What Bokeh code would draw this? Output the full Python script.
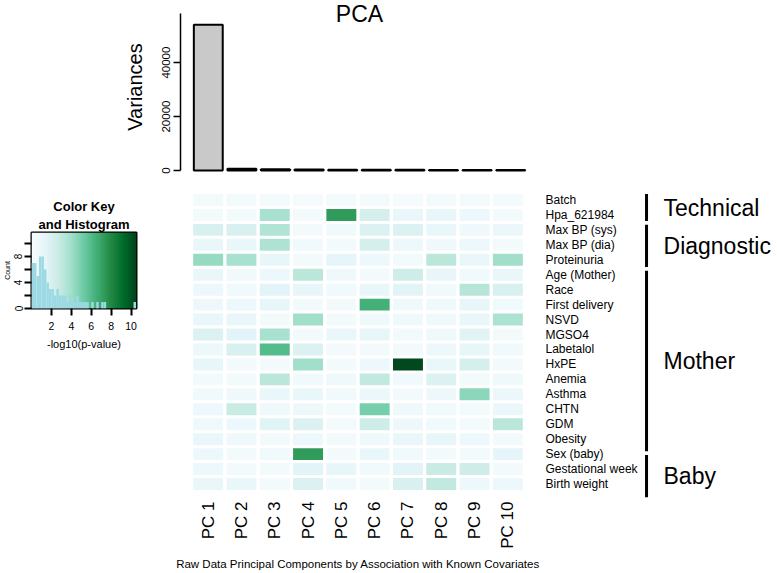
import math
import numpy as np
from bokeh.plotting import figure
from bokeh.layouts import column, row
from bokeh.models import (FactorRange, Range1d, LinearColorMapper, FixedTicker,
                          Label, Title, ColumnDataSource)
from bokeh.transform import linear_cmap
from bokeh.core.properties import value
from bokeh.embed import file_html
from bokeh.resources import INLINE

FONT = "Liberation Sans"

# ---------------- data ----------------
pcs = ["PC 1", "PC 2", "PC 3", "PC 4", "PC 5", "PC 6", "PC 7", "PC 8", "PC 9", "PC 10"]
variances = [54000, 620, 520, 380, 330, 290, 260, 230, 210, 190]

covariates = ["Batch", "Hpa_621984", "Max BP (sys)", "Max BP (dia)", "Proteinuria",
              "Age (Mother)", "Race", "First delivery", "NSVD", "MGSO4", "Labetalol",
              "HxPE", "Anemia", "Asthma", "CHTN", "GDM", "Obesity", "Sex (baby)",
              "Gestational week", "Birth weight"]
groups = ["Technical", "Diagnostic", "Mother", "Baby"]
group_sizes = [2, 3, 12, 3]

# -log10(p-value), one row per covariate, columns PC 1 .. PC 10
neglog_p = [
    [0.3, 0.3, 0.3, 0.2, 0.3, 0.3, 0.2, 0.3, 0.3, 0.3],   # Batch
    [0.4, 0.3, 3.8, 0.3, 7.3, 2.2, 1.0, 1.2, 0.8, 0.4],   # Hpa_621984
    [2.0, 2.0, 3.5, 0.3, 0.5, 1.8, 1.8, 1.0, 0.6, 0.9],   # Max BP (sys)
    [1.0, 1.0, 3.6, 0.5, 0.4, 2.2, 0.8, 0.6, 0.8, 0.4],   # Max BP (dia)
    [4.3, 3.8, 1.2, 0.4, 1.3, 0.8, 0.3, 3.2, 1.0, 4.0],   # Proteinuria
    [1.0, 0.5, 0.8, 3.2, 0.6, 0.4, 2.5, 1.1, 0.5, 1.0],   # Age (Mother)
    [0.8, 0.5, 1.5, 1.2, 0.5, 1.0, 1.5, 0.5, 3.3, 2.0],   # Race
    [0.7, 0.8, 1.2, 0.4, 0.3, 6.5, 0.6, 0.6, 1.2, 0.5],   # First delivery
    [1.0, 1.0, 0.4, 4.0, 0.4, 0.6, 0.6, 0.6, 1.0, 3.7],   # NSVD
    [1.8, 1.5, 3.8, 0.4, 1.0, 1.2, 0.3, 0.6, 1.6, 0.4],   # MGSO4
    [0.8, 2.0, 6.0, 1.8, 0.3, 0.4, 0.4, 0.8, 1.2, 0.5],   # Labetalol
    [1.2, 0.3, 0.4, 4.0, 0.3, 0.8, 10.4, 1.0, 2.2, 0.4],  # HxPE
    [0.4, 0.3, 3.2, 0.5, 0.6, 3.0, 0.5, 1.8, 0.3, 0.6],   # Anemia
    [0.5, 0.6, 1.0, 1.0, 0.5, 0.9, 0.3, 0.7, 4.5, 0.9],   # Asthma
    [0.8, 2.8, 0.6, 0.7, 0.4, 5.0, 0.6, 0.5, 0.4, 0.9],   # CHTN
    [0.6, 0.8, 1.6, 1.8, 0.4, 2.5, 0.7, 0.5, 0.4, 3.2],   # GDM
    [1.0, 0.6, 0.4, 0.8, 0.4, 0.6, 1.0, 1.2, 0.8, 0.4],   # Obesity
    [0.8, 0.4, 0.5, 7.3, 0.4, 1.0, 0.5, 0.4, 0.4, 1.3],   # Sex (baby)
    [0.8, 0.4, 0.3, 1.5, 1.2, 0.5, 1.5, 2.8, 2.5, 0.4],   # Gestational week
    [1.0, 1.0, 0.4, 1.8, 0.5, 0.3, 2.0, 3.0, 0.8, 0.8],   # Birth weight
]

# colour key histogram (bin width 0.25 from 0)
hist_bin_width = 0.25
hist_counts = [7, 7, 5, 8, 8, 6, 4, 3, 3, 2, 3, 2, 2, 2, 1, 2, 1, 1, 2, 1, 1, 1, 1, 0,
               1, 0, 1, 0, 1, 1, 0, 0, 0, 0, 0, 0, 0, 0, 0, 0, 0, 1]
key_max = 10.55
count_max = 11.7
key_ticks = [2, 4, 6, 8, 10]
count_ticks = [0, 2, 4, 6, 8, 10]
count_labels = {0: "0", 2: "", 4: "4", 6: "", 8: "8", 10: ""}
var_ticks = [0, 20000, 40000]

bugn = ["#f7fcfd", "#e5f5f9", "#ccece6", "#a3e0cc", "#6ccaa4",
        "#41ae76", "#238b45", "#006d2c", "#00441b"]


def interp_palette(stops, n=256):
    rgb = np.array([[int(s[i:i + 2], 16) for i in (1, 3, 5)] for s in stops], float)
    pos = np.linspace(0, 1, len(stops))
    t = np.linspace(0, 1, n)
    out = np.stack([np.interp(t, pos, rgb[:, k]) for k in range(3)], 1)
    return ["#%02x%02x%02x" % tuple(int(round(c)) for c in r) for r in out]


palette = interp_palette(bugn)
mapper = LinearColorMapper(palette=palette, low=0, high=key_max)

common = dict(output_backend="svg", toolbar_location=None, title=None, frame_align=False)


def black_axis(ax):
    ax.major_label_text_color = "black"
    ax.axis_label_text_color = "black"
    ax.major_tick_line_color = "black"
    ax.major_label_text_font = FONT
    ax.axis_label_text_font = FONT
    ax.axis_label_text_font_style = "normal"


# ---------------- bar chart (PCA variances) ----------------
n_pc = len(pcs)
pb = figure(width=769, height=188,
            x_range=Range1d(-0.327, n_pc), y_range=Range1d(-1100, 63000),
            min_border_left=180, min_border_right=242, min_border_top=0, min_border_bottom=15,
            **common)
pb.vbar(x=np.arange(n_pc) + 0.5, top=variances, bottom=0, width=0.86,
        fill_color="#c9c9c9", line_color="black", line_width=2)
pb.xaxis.visible = False
pb.grid.visible = False
pb.outline_line_color = None
ya = pb.yaxis[0]
black_axis(ya)
ya.ticker = FixedTicker(ticks=var_ticks)
ya.bounds = (0, 58000)
ya.major_label_orientation = "vertical"
ya.major_label_text_font_size = "11.5px"
ya.major_label_standoff = 3
ya.major_tick_out = 7
ya.major_tick_in = 0
ya.minor_tick_out = 0
ya.minor_tick_in = 0
ya.axis_line_color = "black"
ya.axis_line_width = 1.5
ya.major_tick_line_width = 1.5
ya.axis_label = "Variances"
ya.axis_label_text_font_size = "20px"
ya.axis_label_standoff = 14
pb.add_layout(Label(x=n_pc / 2, y=63000, text="PCA", text_align="center",
                    text_baseline="top", text_font=FONT, text_font_size="23px",
                    text_color="black"))

# ---------------- colour key ----------------
pk = figure(width=161, height=384,
            x_range=Range1d(0, key_max), y_range=Range1d(0, count_max),
            min_border_left=30, min_border_right=25, min_border_top=44, min_border_bottom=264,
            **common)
pk.image(image=[np.linspace(0, key_max, 300)[None, :]], x=0, y=0, dw=key_max, dh=count_max,
         color_mapper=mapper)
edges = np.arange(len(hist_counts) + 1) * hist_bin_width
pk.quad(left=edges[:-1], right=edges[1:], bottom=0, top=hist_counts,
        fill_color="#9cd9e4", line_color=None)
pk.grid.visible = False
pk.outline_line_color = "black"
pk.outline_line_width = 2
kx = pk.xaxis[0]
black_axis(kx)
kx.ticker = FixedTicker(ticks=key_ticks)
kx.axis_line_color = None
kx.major_tick_out = 7
kx.major_tick_in = 0
kx.major_tick_line_width = 2
kx.major_label_text_font_size = "10.5px"
kx.major_label_standoff = 6
kx.axis_label = "-log10(p-value)"
kx.axis_label_text_font_size = "11px"
kx.axis_label_standoff = 5
ky = pk.yaxis[0]
black_axis(ky)
ky.ticker = FixedTicker(ticks=count_ticks)
ky.major_label_overrides = count_labels
ky.major_label_orientation = "vertical"
ky.axis_line_color = None
ky.major_tick_out = 7
ky.major_tick_in = 0
ky.major_tick_line_width = 2
ky.major_label_text_font_size = "10px"
ky.major_label_standoff = 2
ky.axis_label = "Count"
ky.axis_label_text_font_size = "7px"
ky.axis_label_standoff = 1
pk.add_layout(Title(text="and Histogram", text_font=FONT, text_font_size="13px",
                    text_font_style="bold", text_color="black", align="center",
                    standoff=2), "above")
pk.add_layout(Title(text="Color Key", text_font=FONT, text_font_size="13px",
                    text_font_style="bold", text_color="black", align="center",
                    standoff=0), "above")

# ---------------- heatmap ----------------
ph = figure(width=479, height=384,
            x_range=FactorRange(*pcs), y_range=FactorRange(*covariates[::-1]),
            x_axis_location="below", y_axis_location="right",
            min_border_left=30, min_border_right=113, min_border_top=4, min_border_bottom=73,
            **common)
xs, ys, vs = [], [], []
for ci, cov in enumerate(covariates):
    for pi, pc in enumerate(pcs):
        xs.append(pc)
        ys.append(cov)
        vs.append(neglog_p[ci][pi])
src = ColumnDataSource(dict(pc=xs, cov=ys, v=vs))
ph.rect(x="pc", y="cov", width=0.9, height=0.8, source=src,
        fill_color=linear_cmap("v", palette, 0, key_max), line_color=None)
ph.grid.visible = False
ph.outline_line_color = None
hx = ph.xaxis[0]
black_axis(hx)
hx.axis_line_color = None
hx.major_tick_line_color = None
hx.major_label_orientation = math.pi / 2
hx.major_label_text_font_size = "17px"
hx.major_label_standoff = 4
hx.axis_label = "Raw Data Principal Components by Association with Known Covariates"
hx.axis_label_text_font_size = "11.5px"
hx.axis_label_standoff = 6
hy = ph.yaxis[0]
black_axis(hy)
hy.axis_line_color = None
hy.major_tick_line_color = None
hy.major_label_text_font_size = "12px"
hy.major_label_standoff = 15

# ---------------- group annotations ----------------
n_rows = len(covariates)
pg = figure(width=137, height=384,
            x_range=Range1d(0, 1), y_range=Range1d(0, n_rows),
            x_axis_location=None, y_axis_location=None,
            min_border_left=0, min_border_right=0, min_border_top=4, min_border_bottom=73,
            **common)
pg.grid.visible = False
pg.outline_line_color = None
starts = np.concatenate([[0], np.cumsum(group_sizes)[:-1]])
ends = np.cumsum(group_sizes) - 1
centre = lambda i: n_rows - i - 0.5
g_top = [centre(s) + 0.4 for s in starts]
g_bot = [centre(e) - 0.35 for e in ends]
g_mid = [(centre(s) + centre(e)) / 2 for s, e in zip(starts, ends)]
gsrc = ColumnDataSource(dict(top=g_top, bot=g_bot, mid=g_mid, name=groups,
                             bx=[0.044] * len(groups), tx=[0.168] * len(groups)))
pg.segment(x0="bx", y0="top", x1="bx", y1="bot", source=gsrc, line_color="black", line_width=3)
pg.text(x="tx", y="mid", text="name", source=gsrc, text_baseline="middle",
        text_font=value(FONT), text_font_size="23px", text_color="black")

layout = column(pb, row(pk, ph, pg))
open("out.html", "w").write(file_html(layout, INLINE))
